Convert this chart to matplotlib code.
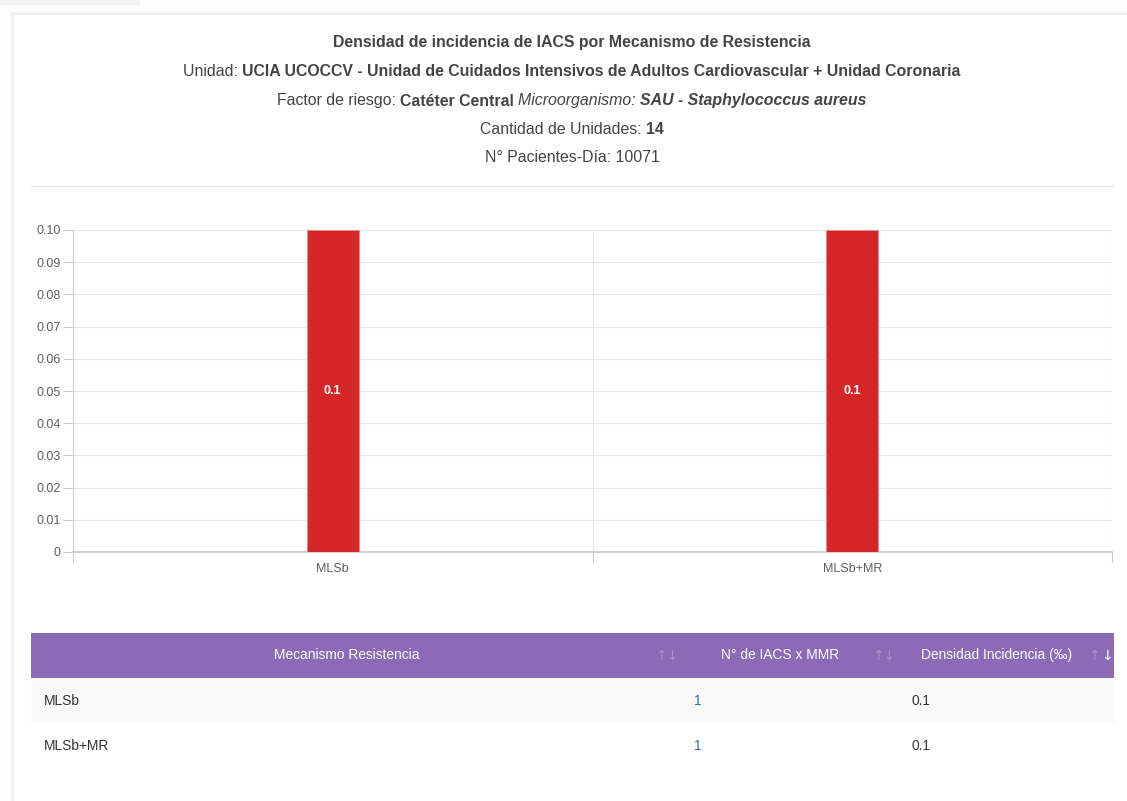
import matplotlib.pyplot as plt
from matplotlib.patches import Rectangle
import numpy as np

# --- datos ---
mecanismos = ['MLSb', 'MLSb+MR']
densidad = [0.1, 0.1]
n_iacs = [1, 1]
y_ticks = [0, 0.01, 0.02, 0.03, 0.04, 0.05, 0.06, 0.07, 0.08, 0.09, 0.10]
y_tick_labels = ['0', '0.01', '0.02', '0.03', '0.04', '0.05', '0.06', '0.07', '0.08', '0.09', '0.10']
col_headers = ['Mecanismo Resistencia', 'N° de IACS x MMR', 'Densidad Incidencia (‰)']

header_lines = [
    [('Densidad de incidencia de IACS por Mecanismo de Resistencia', 'bold', 'normal')],
    [('Unidad: ', 'normal', 'normal'),
     ('UCIA UCOCCV - Unidad de Cuidados Intensivos de Adultos Cardiovascular + Unidad Coronaria', 'bold', 'normal')],
    [('Factor de riesgo: ', 'normal', 'normal'), ('Catéter Central ', 'bold', 'normal'),
     ('Microorganismo: ', 'normal', 'italic'), ('SAU - Staphylococcus aureus', 'bold', 'italic')],
    [('Cantidad de Unidades: ', 'normal', 'normal'), ('14', 'bold', 'normal')],
    [('N° Pacientes-Día: 10071', 'normal', 'normal')],
]

W, H = 1127, 801
plt.rcParams['font.family'] = ['Liberation Sans', 'DejaVu Sans']
fig = plt.figure(figsize=(W / 100, H / 100), dpi=100)
fig.patch.set_facecolor('#fdfdfd')


def fx(px):
    return px / W


def fy(py):
    return 1 - py / H


# tarjeta blanca con sombra suave
fig.patches.append(Rectangle((fx(0), fy(5)), fx(140), 5 / H, transform=fig.transFigure,
                             facecolor='#f3f3f6', edgecolor='none', zorder=-5))
for d, a in [(4, 0.012), (3, 0.015), (2, 0.02), (1, 0.025)]:
    fig.patches.append(Rectangle((fx(14 - d), fy(801)), fx(1127 - 14 + d), (801 - 15 + d) / H,
                                 transform=fig.transFigure, facecolor='#000000', alpha=a,
                                 edgecolor='none', zorder=-5))
fig.patches.append(Rectangle((fx(14), fy(801)), fx(1127 - 14), (801 - 15) / H,
                             transform=fig.transFigure, facecolor='white', edgecolor='none', zorder=-4))

renderer = fig.canvas.get_renderer()


def texto_mixto(segs, y_px, cx_px=572, size=11.4, color='#444444'):
    objs = []
    for s, w, st in segs:
        t = fig.text(0, fy(y_px), s, fontsize=size, fontweight=w, fontstyle=st,
                     color=color, va='center', ha='left', transform=fig.transFigure)
        objs.append(t)
    widths = [t.get_window_extent(renderer).width for t in objs]
    x = cx_px - sum(widths) / 2
    for t, w in zip(objs, widths):
        t.set_x(fx(x))
        x += w


for segs, yp in zip(header_lines, [43, 72, 101, 129, 158]):
    texto_mixto(segs, yp)

fig.add_artist(plt.Line2D([fx(31), fx(1113)], [fy(186), fy(186)], color='#e5e5e5', lw=1))

# --- gráfico de barras ---
ax = fig.add_axes([fx(73), fy(552), fx(1112 - 73), (552 - 230) / H])
ax.set_zorder(2)
ax.patch.set_alpha(0)
x = np.arange(len(mecanismos))
bars = ax.bar(x, densidad, width=0.1, color='#d62728', edgecolor='#e88a8a', linewidth=0.6, zorder=3)
for b, v in zip(bars, densidad):
    ax.text(b.get_x() + b.get_width() / 2, v / 2, f'{v:g}', ha='center', va='center',
            color='white', fontsize=9, fontweight='bold', zorder=4)
ax.set_xlim(-0.5, len(mecanismos) - 0.5)
ax.set_ylim(0, 0.1)
ax.set_yticks(y_ticks)
ax.set_yticklabels(y_tick_labels)
ax.set_xticks(x)
ax.set_xticklabels(mecanismos)
ax.tick_params(axis='y', length=7, width=0.8, color='#cccccc', labelsize=9, labelcolor='#5f5f5f', pad=2)
ax.tick_params(axis='x', length=0, labelsize=9, labelcolor='#5f5f5f', pad=8)
ax.grid(axis='y', color='#e8e8e8', lw=0.8, zorder=0)
tick_len = 0.1 * 10 / 322
for xb in [0.5, 1.5]:
    ax.axvline(xb, color='#e8e8e8', lw=0.8, zorder=0)
    ax.plot([xb, xb], [0, -tick_len], color='#cccccc', lw=0.8, clip_on=False)
ax.plot([-0.5, -0.5], [0, -tick_len], color='#cccccc', lw=0.8, clip_on=False)
for s in ['top', 'right']:
    ax.spines[s].set_visible(False)
ax.spines['left'].set_color('#cccccc')
ax.spines['bottom'].set_color('#c8c8c8')
ax.spines['bottom'].set_linewidth(1.2)

# --- tabla ---
fig.patches.append(Rectangle((fx(31), fy(678)), fx(1114 - 31), 45 / H, transform=fig.transFigure,
                             facecolor='#8b6bb5', edgecolor='none', zorder=-3))
col_cx = [347, 780, 997]
icon_x = [667, 884, 1100]
for k, (h, cx, ix) in enumerate(zip(col_headers, col_cx, icon_x)):
    fig.text(fx(cx), fy(655), h, ha='center', va='center', color='white', fontsize=9.9)
    if k < 2:
        fig.text(fx(ix), fy(656), '↑↓', ha='center', va='center', color='#a892c8', fontsize=10,
                 family='DejaVu Sans')
    else:
        fig.text(fx(ix), fy(656), '↑', ha='right', va='center', color='#a892c8', fontsize=10,
                 family='DejaVu Sans')
        fig.text(fx(ix + 1), fy(656), '↓', ha='left', va='center', color='white', fontsize=10,
                 family='DejaVu Sans')

for i, (m, n, d) in enumerate(zip(mecanismos, n_iacs, densidad)):
    top = 678 + 45 * i
    if i % 2 == 0:
        fig.patches.append(Rectangle((fx(31), fy(top + 45)), fx(1114 - 31), 45 / H,
                                     transform=fig.transFigure, facecolor='#f9f9f9', edgecolor='none',
                                     zorder=-3))
    yc = top + 23
    fig.text(fx(44), fy(yc), m, ha='left', va='center', color='#333333', fontsize=9.9)
    fig.text(fx(694), fy(yc), str(n), ha='left', va='center', color='#2a6fa8', fontsize=9.9)
    fig.text(fx(911), fy(yc), f'{d:g}', ha='left', va='center', color='#333333', fontsize=9.9)

fig.savefig('out.png', dpi=100)
